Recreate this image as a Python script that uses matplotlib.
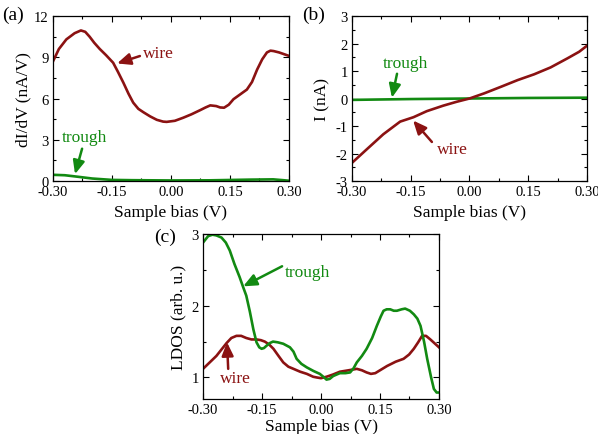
import matplotlib
matplotlib.use("Agg")
import matplotlib.pyplot as plt
from matplotlib.ticker import MultipleLocator, FormatStrFormatter

plt.rcParams['font.family'] = ['Liberation Serif', 'DejaVu Serif']
plt.rcParams['axes.unicode_minus'] = False

WIRE = '#8b1212'
TROUGH = '#128a12'

# Panel (a): dI/dV
a_wire_x = [-0.300, -0.285, -0.266, -0.245, -0.229, -0.218, -0.207, -0.195, -0.181, -0.165, -0.147,
            -0.135, -0.121, -0.108, -0.096, -0.083, -0.070, -0.053, -0.036, -0.020, -0.011, 0.010,
            0.031, 0.052, 0.074, 0.088, 0.100, 0.115, 0.125, 0.135, 0.147, 0.159, 0.176, 0.193,
            0.206, 0.219, 0.232, 0.244, 0.253, 0.261, 0.275, 0.290, 0.300]
a_wire_y = [8.7, 9.6, 10.3, 10.75, 10.95, 10.85, 10.5, 10.05, 9.6, 9.15, 8.6,
            7.95, 7.15, 6.35, 5.7, 5.25, 5.0, 4.7, 4.45, 4.32, 4.3, 4.38,
            4.6, 4.85, 5.15, 5.35, 5.5, 5.45, 5.35, 5.33, 5.55, 5.95, 6.3, 6.65,
            7.2, 8.1, 8.85, 9.35, 9.48, 9.45, 9.35, 9.2, 9.1]
a_trough_x = [-0.300, -0.270, -0.240, -0.200, -0.150, -0.100, 0.000, 0.100, 0.200, 0.260, 0.285, 0.300]
a_trough_y = [0.45, 0.42, 0.32, 0.18, 0.08, 0.06, 0.04, 0.05, 0.10, 0.12, 0.06, 0.02]

# Panel (b): I-V
b_wire_x = [-0.300, -0.264, -0.220, -0.177, -0.143, -0.109, -0.067, -0.033, 0.000, 0.038, 0.081,
            0.123, 0.165, 0.207, 0.250, 0.280, 0.300]
b_wire_y = [-2.34, -1.87, -1.30, -0.84, -0.68, -0.46, -0.26, -0.12, 0.0, 0.19, 0.43,
            0.67, 0.88, 1.13, 1.46, 1.70, 1.92]
b_trough_x = [-0.300, -0.150, 0.000, 0.150, 0.300]
b_trough_y = [-0.05, -0.02, 0.0, 0.02, 0.03]

# Panel (c): LDOS
c_trough_x = [-0.300, -0.287, -0.276, -0.266, -0.253, -0.242, -0.232, -0.220, -0.207, -0.198, -0.190,
              -0.181, -0.172, -0.164, -0.157, -0.151, -0.145, -0.139, -0.130, -0.122, -0.110, -0.096,
              -0.079, -0.070, -0.062, -0.050, -0.036, -0.019, -0.003, 0.008, 0.014, 0.022, 0.031,
              0.048, 0.062, 0.074, 0.083, 0.091, 0.104, 0.116, 0.130, 0.142, 0.152, 0.159, 0.167,
              0.176, 0.185, 0.193, 0.205, 0.214, 0.226, 0.236, 0.245, 0.253, 0.262, 0.270, 0.280,
              0.287, 0.294, 0.300]
c_trough_y = [2.88, 2.97, 2.99, 2.98, 2.95, 2.88, 2.77, 2.58, 2.40, 2.26, 2.14,
              1.92, 1.67, 1.49, 1.42, 1.40, 1.41, 1.44, 1.48, 1.50, 1.49, 1.47,
              1.42, 1.36, 1.26, 1.19, 1.14, 1.09, 1.05, 1.00, 0.97, 0.98, 1.02,
              1.06, 1.06, 1.07, 1.13, 1.21, 1.30, 1.40, 1.55, 1.72, 1.85, 1.93, 1.95,
              1.95, 1.93, 1.93, 1.95, 1.96, 1.93, 1.88, 1.82, 1.72, 1.50, 1.26, 1.00,
              0.84, 0.79, 0.79]
c_wire_x = [-0.300, -0.283, -0.266, -0.253, -0.240, -0.228, -0.215, -0.203, -0.190, -0.177, -0.164,
            -0.153, -0.143, -0.132, -0.121, -0.108, -0.096, -0.083, -0.070, -0.053, -0.036, -0.020,
            -0.011, 0.000, 0.014, 0.030, 0.048, 0.070, 0.091, 0.104, 0.116, 0.127, 0.138, 0.150,
            0.168, 0.190, 0.210, 0.224, 0.236, 0.247, 0.257, 0.267, 0.278, 0.290, 0.300]
c_wire_y = [1.12, 1.21, 1.30, 1.39, 1.48, 1.55, 1.58, 1.58, 1.55, 1.53, 1.53,
            1.52, 1.50, 1.46, 1.40, 1.30, 1.21, 1.15, 1.12, 1.08, 1.05, 1.01,
            1.00, 0.99, 1.01, 1.04, 1.08, 1.10, 1.12, 1.10, 1.07, 1.05, 1.06, 1.10,
            1.16, 1.22, 1.26, 1.32, 1.40, 1.49, 1.58, 1.58, 1.53, 1.47, 1.42]

x_ticks = [-0.30, -0.15, 0.00, 0.15, 0.30]

fig = plt.figure(figsize=(5.98, 4.35), dpi=100)
ax_a = fig.add_axes([0.0886, 0.5816, 0.3946, 0.3793])
ax_b = fig.add_axes([0.5886, 0.5816, 0.393, 0.3793])
ax_c = fig.add_axes([0.3395, 0.0805, 0.3946, 0.3793])


def style(ax, ymaj, ymin, labelpad=4):
    ax.set_xlim(-0.30, 0.30)
    ax.set_xticks(x_ticks)
    ax.xaxis.set_major_formatter(FormatStrFormatter('%.2f'))
    ax.xaxis.set_minor_locator(MultipleLocator(0.075))
    ax.yaxis.set_major_locator(MultipleLocator(ymaj))
    ax.yaxis.set_minor_locator(MultipleLocator(ymin))
    ax.tick_params(which='both', direction='in', top=True, right=True, labelsize=10.5, pad=3)
    ax.tick_params(which='major', length=4, width=0.8)
    ax.tick_params(which='minor', length=2.5, width=0.8)
    for s in ax.spines.values():
        s.set_linewidth(0.9)
    ax.set_xlabel('Sample bias (V)', fontsize=12.5, labelpad=labelpad)


lw = 1.9
arrow_kw = dict(arrowstyle='-|>,head_length=0.8,head_width=0.35', lw=1.8, shrinkA=0, shrinkB=0)

# (a)
ax_a.plot(a_wire_x, a_wire_y, color=WIRE, lw=lw)
ax_a.plot(a_trough_x, a_trough_y, color=TROUGH, lw=lw)
style(ax_a, 3, 1.5)
ax_a.set_ylim(0, 12)
ax_a.yaxis.set_major_formatter(FormatStrFormatter('%d'))
ax_a.set_ylabel('dI/dV (nA/V)', fontsize=12.5, labelpad=2)
ax_a.annotate('', xy=(-0.137, 8.55), xytext=(-0.079, 9.09),
              arrowprops=dict(color=WIRE, **arrow_kw))
ax_a.text(-0.071, 9.3, 'wire', color=WIRE, fontsize=12.5, va='center', ha='left')
ax_a.annotate('', xy=(-0.244, 0.5), xytext=(-0.226, 2.35),
              arrowprops=dict(color=TROUGH, **arrow_kw))
ax_a.text(-0.277, 3.2, 'trough', color=TROUGH, fontsize=12.5, va='center', ha='left')
fig.text(0.004, 0.965, '(a)', fontsize=14, va='center', ha='left')

# (b)
ax_b.plot(b_trough_x, b_trough_y, color=TROUGH, lw=lw)
ax_b.plot(b_wire_x, b_wire_y, color=WIRE, lw=lw)
style(ax_b, 1, 0.5)
ax_b.set_ylim(-3, 3)
ax_b.yaxis.set_major_formatter(FormatStrFormatter('%d'))
ax_b.set_ylabel('I (nA)', fontsize=12.5, labelpad=4)
ax_b.annotate('', xy=(-0.198, 0.03), xytext=(-0.185, 0.9),
              arrowprops=dict(color=TROUGH, **arrow_kw))
ax_b.text(-0.221, 1.28, 'trough', color=TROUGH, fontsize=12.5, va='center', ha='left')
ax_b.annotate('', xy=(-0.144, -0.80), xytext=(-0.096, -1.58),
              arrowprops=dict(color=WIRE, **arrow_kw))
ax_b.text(-0.083, -1.84, 'wire', color=WIRE, fontsize=12.5, va='center', ha='left')
fig.text(0.505, 0.965, '(b)', fontsize=14, va='center', ha='left')

# (c)
ax_c.plot(c_wire_x, c_wire_y, color=WIRE, lw=lw)
ax_c.plot(c_trough_x, c_trough_y, color=TROUGH, lw=lw)
style(ax_c, 1, 0.5, labelpad=1)
ax_c.set_ylim(0.7, 3.0)
ax_c.yaxis.set_major_formatter(FormatStrFormatter('%d'))
ax_c.set_ylabel('LDOS (arb. u.)', fontsize=12.5, labelpad=4)
ax_c.annotate('', xy=(-0.198, 2.27), xytext=(-0.099, 2.55),
              arrowprops=dict(color=TROUGH, **arrow_kw))
ax_c.text(-0.0915, 2.47, 'trough', color=TROUGH, fontsize=12.5, va='center', ha='left')
ax_c.annotate('', xy=(-0.239, 1.49), xytext=(-0.236, 1.12),
              arrowprops=dict(color=WIRE, **arrow_kw))
ax_c.text(-0.257, 0.99, 'wire', color=WIRE, fontsize=12.5, va='center', ha='left')
fig.text(0.258, 0.455, '(c)', fontsize=14, va='center', ha='left')

fig.savefig('out.png', dpi=100)
